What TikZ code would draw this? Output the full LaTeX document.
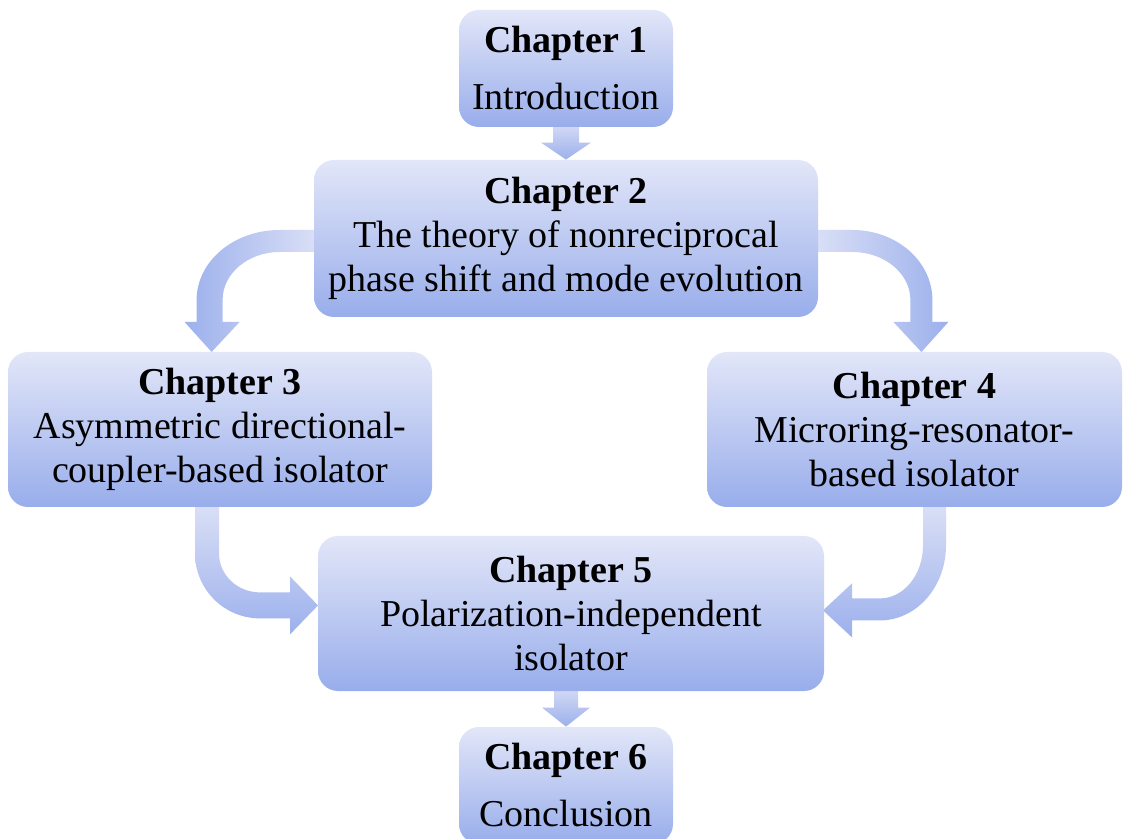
\documentclass[tikz,border=0pt]{standalone}
\usepackage{fontspec}
\setmainfont{Liberation Serif}
\usetikzlibrary{backgrounds}

\definecolor{boxtop}{RGB}{226,230,248}
\definecolor{boxbottom}{RGB}{152,173,235}
\definecolor{arrlight}{RGB}{224,228,247}
\definecolor{arrdark}{RGB}{156,176,236}

\begin{document}
\begin{tikzpicture}[x=0.5pt, y=0.5pt,
		chapbox/.style={rounded corners=10pt, top color=boxtop, bottom color=boxbottom,
			inner sep=0pt, align=center, font=\fontsize{19}{22}\selectfont},
		arrowfill/.style={draw=none}]
		% Page frame of the reference picture
		\useasboundingbox (0,0) rectangle (1125,-839);
		
		% Chapter boxes
		\node[chapbox, minimum width=107pt, minimum height=58.5pt] (ch1) at (566,-68.5)
			{\textbf{Chapter 1}\\[6.5pt]Introduction};
		\node[chapbox, minimum width=252pt, minimum height=78.5pt] (ch2) at (566,-238.5)
			{\textbf{Chapter 2}\\The theory of nonreciprocal\\phase shift and mode evolution};
		\node[chapbox, minimum width=212pt, minimum height=77.5pt] (ch3) at (220,-429.5)
			{\textbf{Chapter 3}\\Asymmetric directional-\\coupler-based isolator};
		\node[chapbox, minimum width=207.5pt, minimum height=77.5pt] (ch4) at (914.5,-429.5)
			{\textbf{Chapter 4}\\Microring-resonator-\\based isolator};
		\node[chapbox, minimum width=253pt, minimum height=77.5pt] (ch5) at (571,-613.5)
			{\textbf{Chapter 5}\\Polarization-independent\\isolator};
		\node[chapbox, minimum width=107pt, minimum height=58.5pt] (ch6) at (566,-785.5)
			{\textbf{Chapter 6}\\[6.5pt]Conclusion};
		
		\begin{scope}[on background layer]
			% Straight block arrows, drawn back from the tip
			\shade[arrowfill, top color=arrlight, bottom color=arrdark]
			(ch2.north) -- ++(-25,17) -- ++(12,0) -- ++(0,26) -- ++(26,0)
			-- ++(0,-26) -- ++(12,0) -- cycle;
			\shade[arrowfill, top color=arrlight, bottom color=arrdark]
			(ch6.north) -- ++(-24,19) -- ++(12,0) -- ++(0,28) -- ++(24,0)
			-- ++(0,-28) -- ++(12,0) -- cycle;
			
			% Chapter 2 to Chapter 3
			\shade[arrowfill, left color=arrdark, right color=arrlight]
			([shift={(16,8.5)}]ch2.west) -- ++(-50,0)
			arc[start angle=90, end angle=180, x radius=83, y radius=70]
			-- ++(0,-22) -- ++(-12,0) -- ++(27,-30) -- ++(28,30) -- ++(-17,0) -- ++(0,22)
			arc[start angle=180, end angle=90, x radius=57, y radius=48]
			-- ++(50,0) -- cycle;
			
			% Chapter 2 to Chapter 4
			\shade[arrowfill, left color=arrlight, right color=arrdark]
			([shift={(-16,8.5)}]ch2.east) -- ++(50,0)
			arc[start angle=90, end angle=0, x radius=80, y radius=70]
			-- ++(0,-22) -- ++(16,0) -- ++(-27,-30) -- ++(-28,30) -- ++(17,0) -- ++(0,22)
			arc[start angle=0, end angle=90, x radius=58, y radius=48]
			-- ++(-50,0) -- cycle;
			
			% Chapter 3 to Chapter 5
			\shade[arrowfill, top color=arrlight, bottom color=arrdark]
			([shift={(-25,16)}]ch3.south) -- ++(0,-62)
			arc[start angle=180, end angle=270, x radius=65, y radius=65]
			-- ++(30,0) -- ++(0,-16) -- ++(28,29) -- ++(-28,29) -- ++(0,-16) -- ++(-30,0)
			arc[start angle=270, end angle=180, x radius=41, y radius=39]
			-- ++(0,62) -- cycle;
			
			% Chapter 4 to Chapter 5
			\shade[arrowfill, top color=arrlight, bottom color=arrdark]
			([shift={(31.5,16)}]ch4.south) -- ++(0,-54)
			arc[start angle=0, end angle=-90, x radius=66, y radius=75]
			-- ++(-28,0) -- ++(0,-17) -- ++(-29,27) -- ++(29,27) -- ++(0,-15) -- ++(28,0)
			arc[start angle=270, end angle=360, x radius=43, y radius=53]
			-- ++(0,54) -- cycle;
		\end{scope}
	\end{tikzpicture}
\end{document}
